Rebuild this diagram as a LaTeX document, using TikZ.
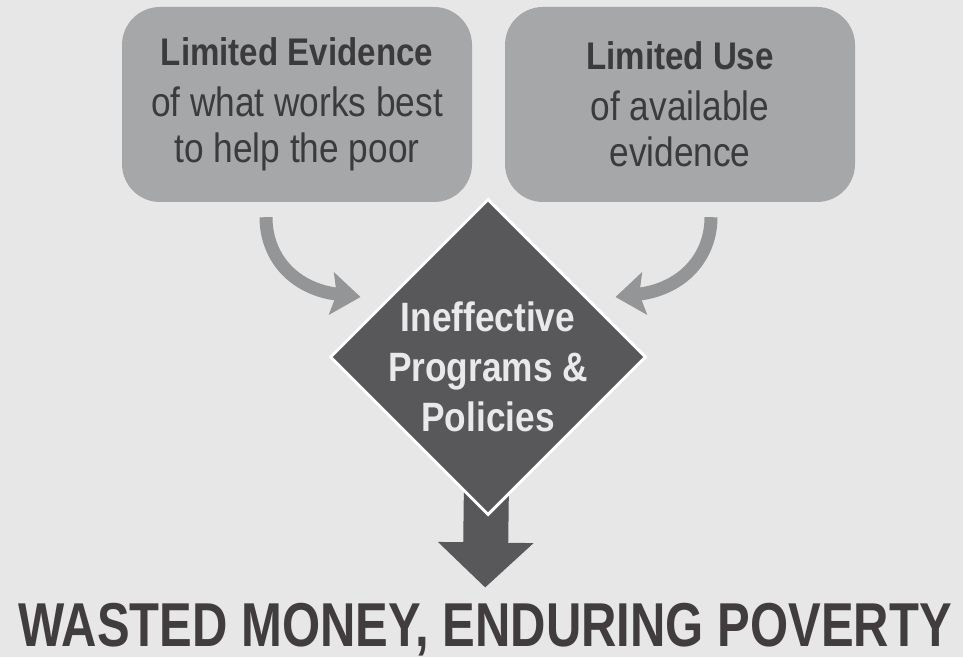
\documentclass[tikz,border=0pt]{standalone}
\usepackage{fontspec}
\usepackage{tikz}
\usetikzlibrary{arrows.meta,shapes.geometric,backgrounds}
\newfontfamily\boxfont[FakeStretch=0.86]{Liberation Sans}
\newfontfamily\headfont[FakeStretch=0.79]{Liberation Sans}
\definecolor{paper}{HTML}{E6E7E6}
\definecolor{boxgray}{HTML}{A6A7A9}
\definecolor{inkgray}{HTML}{3B3A3C}
\definecolor{feedgray}{HTML}{949597}
\definecolor{slate}{HTML}{58575A}
\definecolor{paleink}{HTML}{E9E9E9}
\definecolor{titleink}{HTML}{413D3E}

\begin{document}
\begin{tikzpicture}[x=1pt,y=1pt,
  cause/.style={rectangle,rounded corners=38pt,fill=boxgray,text=inkgray,
    minimum width=350pt,minimum height=195pt,align=center,
    font=\boxfont\fontsize{41}{46}\selectfont},
  effect/.style={diamond,aspect=1,fill=slate,draw=white,line width=3pt,
    minimum width=316pt,minimum height=316pt,inner sep=-10pt,text=paleink,
    align=center,font=\boxfont\bfseries\fontsize{41}{50}\selectfont},
  feed/.style={draw=feedgray,line width=13pt,
    -{Stealth[length=29pt,width=42pt,inset=5pt]}},
  outflow/.style={draw=slate,line width=45pt,
    -{Triangle[length=45pt,width=93pt]},shorten >=15pt}]
\useasboundingbox (0,0) rectangle (963,657);
\node[cause]  (Evid) at (297,552.5)
  {{\bfseries\fontsize{38.5}{46}\selectfont Limited Evidence}\\[5pt]of what works best\\to help the poor};
\node[cause]  (Use)  at (680,552.5)
  {{\bfseries\fontsize{38.5}{46}\selectfont Limited Use}\\[5pt]of available\\evidence};
\node[effect] (Prog) at (488,300) {\rule{0pt}{50pt}Ineffective\\Programs \&\\Policies};
\node[font=\headfont\bfseries\fontsize{62}{70}\selectfont,text=titleink,
  inner sep=0pt,anchor=base] (Out) at (485,11) {WASTED MONEY, ENDURING POVERTY};
% curved feeds into the diamond
\draw[feed] ([xshift=-31pt,yshift=-15pt]Evid.south)
  .. controls +(0,-40) and +(-67,8) .. ([xshift=32pt,yshift=60pt]Prog.west);
\draw[feed] ([xshift=31pt,yshift=-15pt]Use.south)
  .. controls +(0,-40) and +(67,8) .. ([xshift=-32pt,yshift=60pt]Prog.east);
\begin{scope}[on background layer]
\fill[paper] (0,0) rectangle (963,657);
\draw[outflow] (Prog.center) -- (Out.north);
\end{scope}
\end{tikzpicture}
\end{document}
